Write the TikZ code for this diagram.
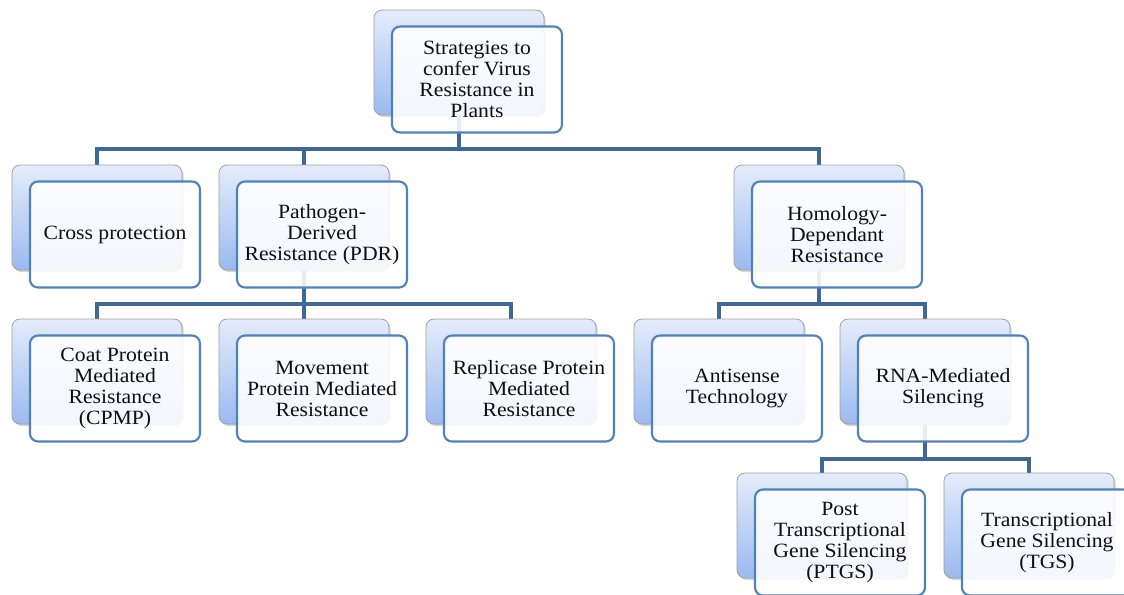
\documentclass[tikz,border=0pt]{standalone}
\usepackage{fontspec}
\setmainfont[FakeStretch=1.07]{Liberation Serif}
\usetikzlibrary{shadows,backgrounds}
\definecolor{connc}{RGB}{63,104,152}
\definecolor{frontc}{RGB}{79,129,189}
\definecolor{backtop}{RGB}{228,236,250}
\definecolor{backbot}{RGB}{155,186,240}
\definecolor{txtc}{RGB}{15,15,15}
\tikzset{
  backbox/.style={rectangle, rounded corners=6pt, draw=gray!75, line width=0.6pt,
    top color=backtop, bottom color=backbot, minimum width=127.5pt, minimum height=78.75pt,
    drop shadow={opacity=0.35, shadow xshift=1.2pt, shadow yshift=-1.5pt}},
  frontbox/.style={rectangle, rounded corners=6pt, draw=frontc, line width=1.6pt,
    fill=white, fill opacity=0.88, text opacity=1, minimum width=127.5pt, minimum height=79.5pt,
    align=center, text=txtc, font=\fontsize{15.2pt}{15.75pt}\selectfont, inner sep=2pt},
  conn/.style={draw=connc, line width=3pt}
}
\newcommand\myent[4]{%
  \node[backbox] (#1-b) at (#2+85,#3+52.5) {};
  \node[frontbox] (#1) at (#2+103,#3+69.5) {#4};
}
\begin{document}
\begin{tikzpicture}[x=0.75pt,y=-0.75pt]
\useasboundingbox (0,0) rectangle (1124,594);
\clip (0,0) rectangle (1124,594);
\myent{root}{374}{10}{Strategies to\\confer Virus\\Resistance in\\Plants}
\myent{cross}{12}{165}{Cross protection}
\myent{pdr}{219}{165}{Pathogen-\\Derived\\Resistance (PDR)}
\myent{hom}{734}{165}{Homology-\\Dependant\\Resistance}
\myent{cpmp}{12}{319}{Coat Protein\\Mediated\\Resistance\\(CPMP)}
\myent{move}{219}{319}{Movement\\Protein Mediated\\Resistance}
\myent{rep}{426}{319}{Replicase Protein\\Mediated\\Resistance}
\myent{anti}{634}{319}{Antisense\\Technology}
\myent{rna}{840}{319}{RNA-Mediated\\Silencing}
\myent{ptgs}{737}{473}{Post\\Transcriptional\\Gene Silencing\\(PTGS)}
\myent{tgs}{944}{473}{Transcriptional\\Gene Silencing\\(TGS)}
\coordinate (busa) at (0,149);
\coordinate (busb) at (0,304);
\coordinate (busc) at (0,459);
\begin{scope}[on background layer]
\foreach \c in {cross,pdr,hom}
  \draw[conn] (root-b.south) -- (root-b.south |- busa) -| (\c-b.north);
\foreach \c in {cpmp,move,rep}
  \draw[conn] (pdr-b.south) -- (pdr-b.south |- busb) -| (\c-b.north);
\foreach \c in {anti,rna}
  \draw[conn] (hom-b.south) -- (hom-b.south |- busb) -| (\c-b.north);
\foreach \c in {ptgs,tgs}
  \draw[conn] (rna-b.south) -- (rna-b.south |- busc) -| (\c-b.north);
\end{scope}
\end{tikzpicture}
\end{document}
